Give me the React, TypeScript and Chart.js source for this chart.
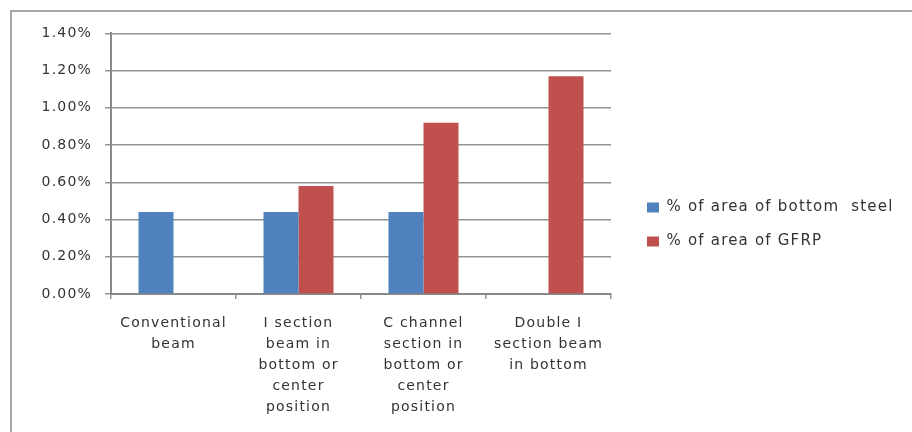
import React, { useEffect, useRef } from 'react';
import { Chart, registerables } from 'chart.js';

Chart.register(...registerables);

const categories: string[][] = [
  ['Conventional', 'beam'],
  ['I section', 'beam in', 'bottom or', 'center', 'position'],
  ['C channel', 'section in', 'bottom or', 'center', 'position'],
  ['Double I', 'section beam', 'in bottom'],
];
const steelValues: (number | null)[] = [0.44, 0.44, 0.44, null];
const gfrpValues: (number | null)[] = [null, 0.58, 0.92, 1.17];
const seriesNames = ['% of area of bottom  steel', '% of area of GFRP'];
const yMin = 0;
const yMax = 1.4;
const yStep = 0.2;

const FONT = "'DejaVu Sans', Verdana, sans-serif";
const TEXT = '#333333';
const GRID = '#939393';

const spacingPlugin = {
  id: 'letterSpacing',
  beforeUpdate(chart: any) {
    chart.ctx.letterSpacing = '1.2px';
  },
  beforeDraw(chart: any) {
    chart.ctx.letterSpacing = '1.2px';
  },
};

export default function App() {
  const ref = useRef<HTMLCanvasElement | null>(null);

  useEffect(() => {
    if (!ref.current) return;
    const chart = new Chart(ref.current, {
      type: 'bar',
      data: {
        labels: categories,
        datasets: [
          {
            label: seriesNames[0],
            data: steelValues,
            backgroundColor: '#4F81BD',
            borderWidth: 0,
          },
          {
            label: seriesNames[1],
            data: gfrpValues,
            backgroundColor: '#C0504D',
            borderWidth: 0,
          },
        ],
      },
      plugins: [spacingPlugin],
      options: {
        animation: false,
        responsive: false,
        devicePixelRatio: 1,
        datasets: {
          bar: { categoryPercentage: 0.56, barPercentage: 1 },
        },
        layout: { padding: { left: 0, top: 19, right: 12, bottom: 14 } },
        plugins: {
          legend: {
            position: 'right',
            maxWidth: 272,
            labels: {
              boxWidth: 12,
              boxHeight: 10,
              padding: 19,
              color: TEXT,
              font: { family: FONT, size: 15 },
            },
          },
          tooltip: { enabled: false },
        },
        scales: {
          x: {
            grid: {
              drawOnChartArea: false,
              drawTicks: true,
              tickLength: 5,
              color: GRID,
              lineWidth: 1.5,
            },
            border: { color: '#888888', width: 2 },
            ticks: {
              color: TEXT,
              maxRotation: 0,
              autoSkip: false,
              padding: 14,
              font: { family: FONT, size: 14, lineHeight: 1.5 },
            },
            afterFit: (scale: any) => {
              scale.height = 124;
            },
          },
          y: {
            min: yMin,
            max: yMax,
            grid: {
              color: GRID,
              lineWidth: 1.5,
              tickLength: 6,
            },
            border: { color: '#888888', width: 2 },
            ticks: {
              stepSize: yStep,
              color: TEXT,
              padding: 13,
              font: { family: FONT, size: 14 },
              callback: (v: any) => Number(v).toFixed(2) + '%',
            },
            afterFit: (scale: any) => {
              scale.width = 99;
            },
          },
          gap: {
            type: 'linear',
            position: 'right',
            display: true,
            grid: { display: false, drawTicks: false },
            border: { display: false },
            ticks: { display: false },
            afterFit: (scale: any) => {
              scale.width = 17;
            },
          },
        },
      } as any,
    });
    return () => chart.destroy();
  }, []);

  return (
    <div
      style={{
        position: 'absolute',
        left: 0,
        top: 0,
        width: 912,
        height: 432,
        overflow: 'hidden',
        background: '#ffffff',
      }}
    >
      <div
        style={{
          position: 'absolute',
          left: 10,
          top: 10,
          width: 1000,
          height: 1000,
          borderLeft: '2px solid #a8a8a8',
          borderTop: '2px solid #a8a8a8',
        }}
      />
      <canvas
        ref={ref}
        width={900}
        height={420}
        style={{ position: 'absolute', left: 12, top: 12, width: 900, height: 420 }}
      />
    </div>
  );
}
